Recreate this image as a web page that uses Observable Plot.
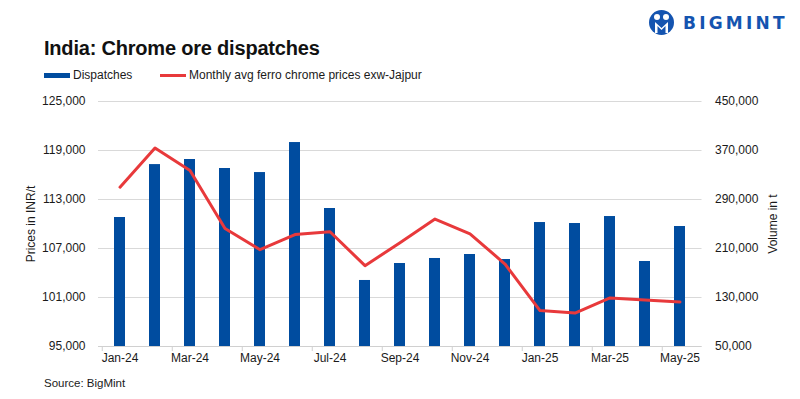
<!DOCTYPE html>
<html>
<head>
<meta charset="utf-8">
<script src="https://cdn.jsdelivr.net/npm/d3@7"></script>
<script src="https://cdn.jsdelivr.net/npm/@observablehq/plot@0.6"></script>
<style>
  html, body { margin: 0; padding: 0; background: #fff; }
  body { width: 800px; height: 399px; overflow: hidden; font-family: "Liberation Sans", Arial, sans-serif; color: #1a1a1a; }
  #wrap { position: relative; width: 800px; height: 399px; }
  #title { position: absolute; left: 44px; top: 37px; font-size: 20px; font-weight: bold; color: #111; letter-spacing: -0.2px; }
  .leg { position: absolute; top: 68px; font-size: 12px; color: #1a1a1a; display: flex; align-items: center; }
  .sw { display: inline-block; width: 26px; margin-right: 3px; }
  #chart { position: absolute; left: 0; top: 90px; }
  #source { position: absolute; left: 44px; top: 377px; font-size: 11.5px; color: #1a1a1a; }
  #logo { position: absolute; left: 648px; top: 9px; display: flex; align-items: center; }
  #logo span { font-size: 17px; font-weight: bold; color: #1454b0; letter-spacing: 3.2px; margin-left: 8px; font-family: "DejaVu Sans", "Liberation Sans", sans-serif; }
</style>
</head>
<body>
<div id="wrap">
  <div id="logo">
    <svg width="27" height="27" viewBox="0 0 27 27">
      <circle cx="13.5" cy="13.5" r="12.5" fill="#1454b0"/>
      <circle cx="9" cy="8" r="3" fill="#fff"/>
      <circle cx="18" cy="8" r="3" fill="#fff"/>
      <path d="M7 24 L7 13 L13.5 19 L20 13 L20 24 L17.5 24 L17.5 17 L13.5 21 L9.5 17 L9.5 24 Z" fill="#fff"/>
    </svg>
    <span>BIGMINT</span>
  </div>
  <div id="title">India: Chrome ore dispatches</div>
  <div class="leg" style="left:44px"><span class="sw" style="height:5px;background:#004c9f"></span>Dispatches</div>
  <div class="leg" style="left:160px"><span class="sw" style="height:3px;background:#e8393b"></span>Monthly avg ferro chrome prices exw-Jajpur</div>
  <div id="chart"></div>
  <div id="source">Source: BigMint</div>
</div>
<script>
const months = ["Jan-24","Feb-24","Mar-24","Apr-24","May-24","Jun-24","Jul-24","Aug-24","Sep-24","Oct-24","Nov-24","Dec-24","Jan-25","Feb-25","Mar-25","Apr-25","May-25"];
const dispatches = [260600, 347000, 355300, 340600, 334000, 383000, 275300, 157800, 185500, 193700, 200200, 192000, 252400, 250800, 262200, 188800, 245900];
const prices = [114500, 119300, 116550, 109450, 106850, 108700, 109050, 104900, 107700, 110600, 108800, 105100, 99400, 99100, 100950, 100700, 100450];
const priceTicks = [95000, 101000, 107000, 113000, 119000, 125000];
const volumeTicks = [50000, 130000, 210000, 290000, 370000, 450000];
const xLabelMonths = ["Jan-24","Mar-24","May-24","Jul-24","Sep-24","Nov-24","Jan-25","Mar-25","May-25"];

const pMin = 95000, pMax = 125000, vMin = 50000, vMax = 450000;
const toP = v => pMin + (v - vMin) * (pMax - pMin) / (vMax - vMin);
const toV = p => vMin + (p - pMin) * (vMax - vMin) / (pMax - pMin);

const rows = months.map((m, i) => ({month: m, vol: dispatches[i], price: prices[i]}));
const fmt = d3.format(",");

const W = 800, H = 290, mL = 98, mR = 98.5, mT = 11, mB = 34;
const step = (W - mL - mR) / months.length;
const tickLen = 5 * (pMax - pMin) / (H - mT - mB);

const chart = Plot.plot({
  width: W, height: H,
  marginLeft: mL, marginRight: mR, marginTop: mT, marginBottom: mB,
  style: {fontFamily: "'Liberation Sans', Arial, sans-serif", fontSize: "12px", color: "#1a1a1a", background: "transparent"},
  x: {domain: months, paddingInner: 0.69, paddingOuter: 0.345, axis: null},
  y: {domain: [pMin, pMax], axis: null},
  marks: [
    Plot.gridY(priceTicks, {stroke: "#d9d9d9", strokeOpacity: 1}),
    Plot.ruleY([pMin], {stroke: "#d0d0d0", strokeWidth: 1}),
    Plot.ruleX(xLabelMonths, {x: d => d, y1: pMin, y2: pMin - tickLen, dx: -step / 2, stroke: "#d0d0d0"}),
    Plot.barY(rows, {x: "month", y1: pMin, y2: d => toP(d.vol), fill: "#004c9f"}),
    Plot.lineY(rows, {x: "month", y: "price", stroke: "#e8393b", strokeWidth: 3, strokeLinejoin: "round"}),
    Plot.axisX(xLabelMonths, {anchor: "bottom", tickSize: 0, tickPadding: 7, fontSize: 12, label: null}),
    Plot.axisY(priceTicks, {anchor: "left", tickSize: 0, tickPadding: 13, fontSize: 12, tickFormat: fmt,
      label: "Prices in INR/t", labelAnchor: "center", labelOffset: 72, labelArrow: false}),
    Plot.axisY(volumeTicks.map(toP), {anchor: "right", tickSize: 0, tickPadding: 13, fontSize: 12, tickFormat: p => fmt(Math.round(toV(p))),
      label: "Volume in t", labelAnchor: "center", labelOffset: 75, labelArrow: false})
  ]
});
document.getElementById("chart").appendChild(chart);
</script>
</body>
</html>
